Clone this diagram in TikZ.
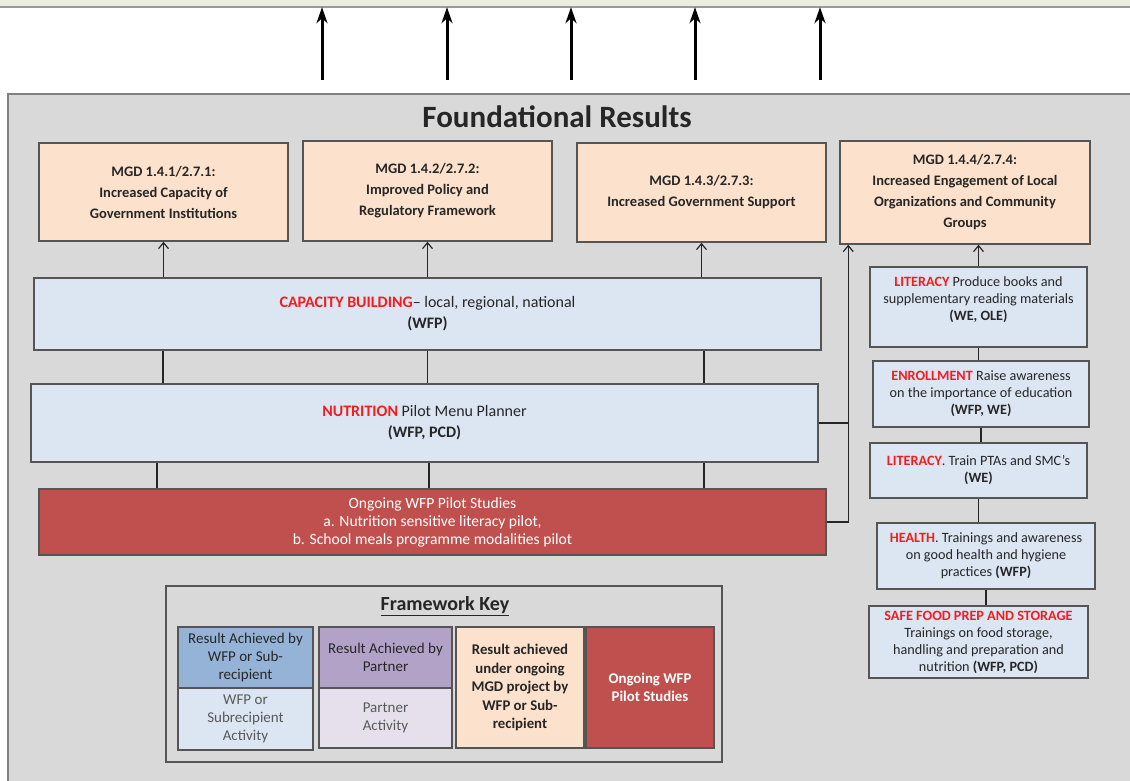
\documentclass[tikz,border=0pt]{standalone}
\usepackage{fontspec}
\setmainfont{Carlito}
\usetikzlibrary{arrows.meta}

\definecolor{bandgreen}{HTML}{EBEEDF}
\definecolor{panelgray}{HTML}{D9D9D9}
\definecolor{peach}{HTML}{FCE2CC}
\definecolor{paleblue}{HTML}{DCE6F2}
\definecolor{pilotred}{HTML}{C0504D}
\definecolor{keyblue}{HTML}{95B3D7}
\definecolor{keypurple}{HTML}{B3A2C7}
\definecolor{palepurple}{HTML}{E5E0EC}
\definecolor{hotred}{HTML}{F01E1E}
\definecolor{edge}{HTML}{555555}

\newcommand{\hot}[1]{\textcolor{hotred}{\bfseries #1}}

\begin{document}
\begin{tikzpicture}[x=1pt, y=-1pt,
  box/.style={draw=edge, line width=1.5pt, align=center, inner sep=2pt, text=black!85,
    font=\fontsize{16}{21}\selectfont},
  mgd/.style={box, fill=peach, minimum width=249pt, font=\bfseries\fontsize{14.5}{21}\selectfont},
  act/.style={box, fill=paleblue, minimum width=787pt},
  side/.style={box, fill=paleblue, minimum width=217pt, font=\fontsize{14.2}{17}\selectfont},
  keycell/.style={box, line width=1.2pt, font=\fontsize{15}{18}\selectfont},
  link/.style={draw=black!85, line width=1.2pt},
  uparrow/.style={link, -{Straight Barb[length=6pt,width=10pt]}},
  bigarrow/.style={line width=3pt, -{Stealth[length=16pt,width=11pt,inset=5pt]}}
]
\useasboundingbox (0,0) rectangle (1130,780);
\clip (0,0) rectangle (1130,780);

% Background
\fill[white] (0,0) rectangle (1130,780);
\node[fill=bandgreen, minimum width=1140pt, minimum height=8pt, inner sep=0pt] (band) at (565,3) {};
\draw[gray!80, line width=2pt] (band.south west) -- (band.south east);

% Arrows to the results above
\foreach \x in {322,447,571,695,820} {
  \coordinate (foot\x) at (\x,80);
  \draw[bigarrow] (foot\x) -- (foot\x |- band.south);
}

% Foundational panel
\filldraw[fill=panelgray, draw=gray, line width=2pt] (8,94) rectangle (1140,790);
\node[font=\bfseries\fontsize{31}{36}\selectfont, text=black!85] (title) at (557,117) {Foundational Results};

% MGD results
\node[mgd, minimum height=98pt] (mgd1) at (163.5,192) {MGD 1.4.1/2.7.1:\\Increased Capacity of\\Government Institutions};
\node[mgd, minimum height=100pt] (mgd2) at (427.5,191) {MGD 1.4.2/2.7.2:\\Improved Policy and\\Regulatory Framework};
\node[mgd, minimum height=99pt] (mgd3) at (701.5,192.5) {MGD 1.4.3/2.7.3:\\Increased Government Support};
\node[mgd, minimum width=250pt, minimum height=103pt] (mgd4) at (965,192.5) {MGD 1.4.4/2.7.4:\\Increased Engagement of Local\\Organizations and Community\\Groups};

% Activities
\node[act, minimum height=72pt] (cap) at (427.5,314) {\hot{CAPACITY BUILDING}-- local, regional, national\\\textbf{(WFP)}};
\node[act, minimum height=78pt] (nut) at (424.5,423) {\hot{NUTRITION} Pilot Menu Planner\\\textbf{(WFP, PCD)}};
\node[act, fill=pilotred, text=white, minimum height=66pt, font=\fontsize{15.6}{18}\selectfont] (pilot) at (432.5,522)
  {Ongoing WFP Pilot Studies\\a. Nutrition sensitive literacy pilot,\\b. School meals programme modalities pilot};

% Right column
\node[side, minimum height=80pt] (lit1) at (978.5,307) {\hot{LITERACY} Produce books and\\supplementary reading materials\\\textbf{(WE, OLE)}\\~};
\node[side, minimum width=216pt, minimum height=66pt] (enrol) at (981,394) {\hot{ENROLLMENT} Raise awareness\\on the importance of education\\\textbf{(WFP, WE)}};
\node[side, minimum height=55pt] (lit2) at (978.5,470.5) {\hot{LITERACY}. Train PTAs and SMC's\\\textbf{(WE)}};
\node[side, minimum width=218pt, minimum height=66pt] (health) at (986,556) {\hot{HEALTH}. Trainings and awareness\\on good health and hygiene\\practices \textbf{(WFP)}};
\node[side, minimum width=219pt, minimum height=72pt] (food) at (978.5,642) {\hot{SAFE FOOD PREP AND STORAGE}\\Trainings on food storage,\\handling and preparation and\\nutrition \textbf{(WFP, PCD)}};

% Connectors
\foreach \m in {mgd1,mgd2,mgd3} {\draw[uparrow] (cap.north -| \m.south) -- (\m.south);}
\foreach \dx in {-264.5,0,276.5} {\draw[link] ([xshift=\dx pt]cap.south) -- ([xshift=\dx pt]cap.south |- nut.north);}
\foreach \dx in {-267.5,4.5,279.5} {\draw[link] ([xshift=\dx pt]nut.south) -- ([xshift=\dx pt]nut.south |- pilot.north);}
\coordinate (rail) at ([xshift=9pt]mgd4.south west);
\draw[uparrow] (pilot.east) -| (rail);
\draw[link] (nut.east) -- (nut.east -| rail);
\draw[uparrow] (lit1.north) -- (lit1.north |- mgd4.south);
\foreach \a/\b in {lit1/enrol, enrol/lit2, lit2/health, health/food} {\draw[link] (\a.south) -- (\a.south |- \b.north);}

% Framework key
\node[draw=edge, line width=1.5pt, minimum width=556pt, minimum height=176pt] (key) at (444,674) {};
\node[font=\bfseries\fontsize{20}{24}\selectfont, text=black!85] (keytitle) at (445,606) {\underline{Framework Key}};
\node[keycell, fill=keyblue, minimum width=135pt, minimum height=61pt] (k1a) at (245.5,657.5) {Result Achieved by\\WFP or Sub-\\recipient};
\node[keycell, fill=paleblue, text=black!65, minimum width=135pt, minimum height=62pt] (k1b) at (245.5,719) {WFP or\\Subrecipient\\Activity};
\node[keycell, fill=keypurple, minimum width=133pt, minimum height=61pt] (k2a) at (385.5,657.5) {Result Achieved by\\Partner};
\node[keycell, fill=palepurple, text=black!65, minimum width=133pt, minimum height=60pt] (k2b) at (385.5,718) {Partner\\Activity};
\node[keycell, fill=peach, font=\bfseries\fontsize{14.8}{18.5}\selectfont, minimum width=128pt, minimum height=121pt] (k3) at (520,687.5)
  {Result achieved\\under ongoing\\MGD project by\\WFP or Sub-\\recipient};
\node[keycell, fill=pilotred, text=white, font=\bfseries\fontsize{14.8}{18}\selectfont, minimum width=128pt, minimum height=121pt] (k4) at (650,687.5)
  {Ongoing WFP\\Pilot Studies};
\end{tikzpicture}
\end{document}
